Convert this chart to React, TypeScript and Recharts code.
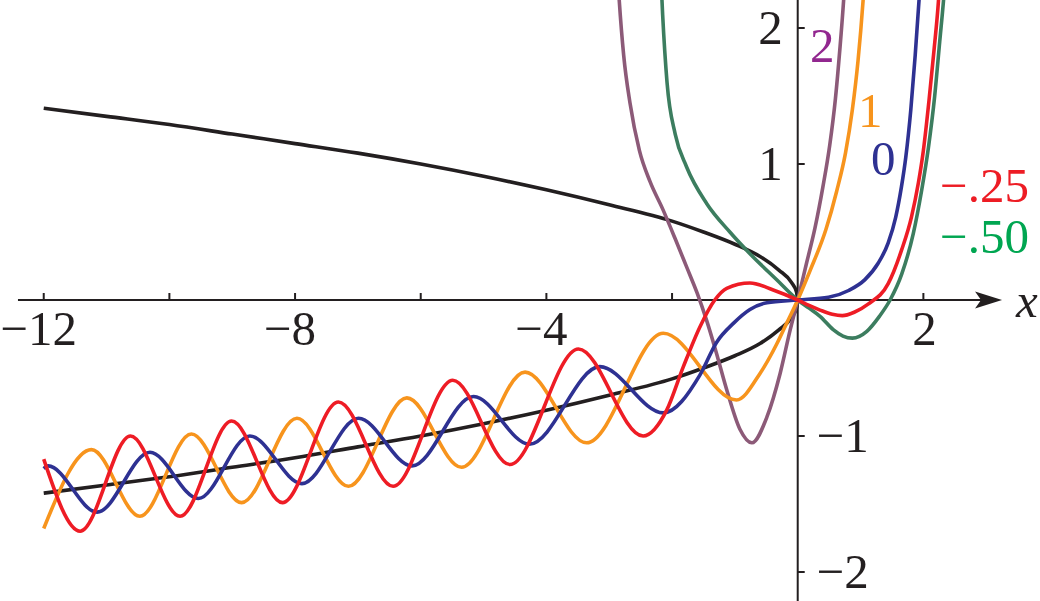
import React from 'react';
import { LineChart, Line, XAxis, YAxis, ReferenceLine, ReferenceDot } from 'recharts';

// ---- data ----
const blackUpper: [number, number][] = [
  [-12, 1.41], [-11, 1.35], [-10, 1.29], [-9, 1.22], [-8, 1.15], [-7, 1.08], [-6, 1.0],
  [-5, 0.91], [-4, 0.81], [-3, 0.7], [-2, 0.58], [-1.5, 0.5], [-1, 0.41], [-0.6, 0.32],
  [-0.3, 0.22], [-0.1, 0.13], [-0.02, 0.06], [0, 0],
];
const blackLower: [number, number][] = [
  [-12, -1.42], [-11, -1.36], [-10, -1.3], [-9, -1.23], [-8, -1.16], [-7, -1.08], [-6, -1.0],
  [-5, -0.91], [-4, -0.81], [-3, -0.7], [-2, -0.58], [-1.5, -0.5], [-1, -0.41], [-0.6, -0.32],
  [-0.3, -0.22], [-0.1, -0.13], [-0.02, -0.06], [0, 0],
];
const curveRed: [number, number][] = [
  [-12, -1.17], [-11.42, -1.7], [-10.62, -1.0], [-9.83, -1.59], [-9.01, -0.89], [-8.2, -1.49],
  [-7.31, -0.75], [-6.44, -1.37], [-5.49, -0.59], [-4.58, -1.21], [-3.49, -0.36], [-2.46, -1.0],
  [-2.085, -0.81], [-1.82, -0.49], [-1.555, -0.196], [-1.32, 0], [-1.13, 0.086], [-0.76, 0.125],
  [-0.39, 0.074], [0, 0], [0.18, -0.04], [0.355, -0.074], [0.55, -0.105], [0.71, -0.115],
  [0.9, -0.09], [1.12, -0.03], [1.44, 0.12], [1.655, 0.37], [1.81, 0.61], [1.92, 0.86],
  [2.0, 1.1], [2.09, 1.47], [2.17, 1.84], [2.24, 2.2], [2.28, 2.5],
];
const curveBlue: [number, number][] = [
  [-12, -1.24], [-11.93, -1.22], [-11.15, -1.56], [-10.31, -1.12], [-9.54, -1.46], [-8.72, -1.0],
  [-7.89, -1.35], [-6.99, -0.87], [-6.14, -1.22], [-5.16, -0.71], [-4.27, -1.06], [-3.15, -0.49],
  [-2.14, -0.83], [-1.555, -0.55], [-1.29, -0.31], [-1.02, -0.17], [-0.76, -0.07], [-0.49, -0.02],
  [0, 0], [0.49, 0.02], [0.81, 0.07], [1.07, 0.15], [1.28, 0.27], [1.44, 0.42], [1.56, 0.61],
  [1.65, 0.83], [1.72, 1.05], [1.8, 1.4], [1.87, 1.8], [1.93, 2.2], [1.97, 2.5],
];
const curveOrange: [number, number][] = [
  [-12, -1.68], [-11.24, -1.1], [-10.47, -1.59], [-9.65, -0.985], [-8.85, -1.49], [-7.97, -0.87],
  [-7.15, -1.37], [-6.22, -0.72], [-5.35, -1.23], [-4.34, -0.53], [-3.36, -1.05], [-2.14, -0.245],
  [-0.975, -0.735], [-0.6, -0.54], [-0.33, -0.32], [-0.175, -0.17], [0, 0], [0.2, 0.22],
  [0.45, 0.52], [0.62, 0.8], [0.76, 1.08], [0.87, 1.4], [0.96, 1.76], [1.04, 2.2], [1.09, 2.55],
];
const curvePurple: [number, number][] = [
  [-2.88, 2.5], [-2.84, 2.2], [-2.77, 1.8], [-2.67, 1.45], [-2.52, 1.1], [-2.35, 0.87],
  [-2.15, 0.67], [-1.95, 0.45], [-1.77, 0.245], [-1.6, 0.05], [-1.45, -0.15], [-1.3, -0.38],
  [-1.13, -0.66], [-0.92, -0.95], [-0.73, -1.05], [-0.49, -0.86], [-0.28, -0.54], [-0.12, -0.22],
  [0, 0], [0.14, 0.27], [0.275, 0.53], [0.4, 0.83], [0.51, 1.14], [0.6, 1.48], [0.67, 1.84],
  [0.73, 2.2], [0.77, 2.5],
];
const curveGreen: [number, number][] = [
  [-2.19, 2.5], [-2.15, 2.1], [-2.08, 1.6], [-1.95, 1.22], [-1.77, 0.98], [-1.45, 0.71],
  [-1.08, 0.5], [-0.76, 0.34], [-0.33, 0.147], [0, 0], [0.18, -0.06], [0.355, -0.12],
  [0.57, -0.22], [0.72, -0.265], [0.87, -0.28], [1.1, -0.23], [1.3, -0.12], [1.47, 0],
  [1.655, 0.19], [1.84, 0.49], [1.97, 0.8], [2.08, 1.12], [2.18, 1.5], [2.26, 1.9],
  [2.32, 2.2], [2.37, 2.5],
];

const xTicks = [-12, -10, -8, -6, -4, -2, 2];
const xTickLabels: Record<number, string> = { [-12]: '\u221212', [-8]: '\u22128', [-4]: '\u22124', [2]: '2' };
const yTicks = [-2, -1, 1, 2];
const yTickLabels: Record<number, string> = { [-2]: '\u22122', [-1]: '\u22121', [1]: '1', [2]: '2' };

const curveLabels = [
  { text: '2', x: 0.196, y: 1.75, color: '#92278F' },
  { text: '1', x: 0.96, y: 1.27, color: '#F7941D' },
  { text: '0', x: 1.167, y: 0.92, color: '#2E3192' },
  { text: '\u2212.25', x: 2.265, y: 0.72, color: '#ED1C24' },
  { text: '\u2212.50', x: 2.265, y: 0.346, color: '#00A651' },
];

const toRows = (pts: [number, number][]) => pts.map(([x, y]) => ({ x, y }));

const W = 1040;
const H = 601;
const X_DOMAIN: [number, number] = [-12.696, 3.856];
const Y_DOMAIN: [number, number] = [-2.2132, 2.2059];
const INK = '#231F20';
const FONT = '"Liberation Serif", "Times New Roman", serif';
const FS = 49;

const series = [
  { key: 'bu', pts: blackUpper, color: INK },
  { key: 'bl', pts: blackLower, color: INK },
  { key: 'green', pts: curveGreen, color: '#3C7D5F' },
  { key: 'purple', pts: curvePurple, color: '#8C5A78' },
  { key: 'orange', pts: curveOrange, color: '#F7941D' },
  { key: 'blue', pts: curveBlue, color: '#2E3192' },
  { key: 'red', pts: curveRed, color: '#EE1C25' },
];

export default function App() {
  return (
    <div style={{ position: 'absolute', left: 0, top: 0, width: W, height: H, background: '#fff' }}>
      <LineChart width={W} height={H} margin={{ top: 0, right: 0, bottom: 0, left: 0 }}>
        <XAxis type="number" dataKey="x" domain={X_DOMAIN} allowDataOverflow hide />
        <YAxis type="number" dataKey="y" domain={Y_DOMAIN} allowDataOverflow hide />
        <ReferenceLine
          segment={[{ x: -12.41, y: 0 }, { x: 3.05, y: 0 }]}
          stroke={INK}
          strokeWidth={2}
          ifOverflow="visible"
        />
        <ReferenceLine x={0} stroke={INK} strokeWidth={2} />
        {xTicks.map((t) => (
          <ReferenceDot
            key={'xt' + t}
            x={t}
            y={0}
            r={1}
            ifOverflow="visible"
            shape={(p: any) => (
              <g>
                <line x1={p.cx} y1={p.cy} x2={p.cx} y2={p.cy - 7} stroke={INK} strokeWidth={2} />
                {xTickLabels[t] ? (
                  <text
                    x={p.cx + (t < 0 ? -5 : 1)}
                    y={p.cy + 45}
                    textAnchor="middle"
                    fontFamily={FONT}
                    fontSize={FS}
                    fill={INK}
                  >
                    {xTickLabels[t]}
                  </text>
                ) : null}
              </g>
            )}
          />
        ))}
        {yTicks.map((t) => (
          <ReferenceDot
            key={'yt' + t}
            x={0}
            y={t}
            r={1}
            ifOverflow="visible"
            shape={(p: any) => (
              <g>
                <line x1={p.cx} y1={p.cy} x2={p.cx + 7} y2={p.cy} stroke={INK} strokeWidth={2} />
                <text
                  x={t > 0 ? p.cx - 15 : p.cx + 19}
                  y={p.cy + 16}
                  textAnchor={t > 0 ? 'end' : 'start'}
                  fontFamily={FONT}
                  fontSize={FS}
                  fill={INK}
                >
                  {yTickLabels[t]}
                </text>
              </g>
            )}
          />
        ))}
        <ReferenceDot
          x={3.252}
          y={0}
          r={1}
          ifOverflow="visible"
          shape={(p: any) => (
            <g>
              <polygon
                points={`${p.cx},${p.cy} ${p.cx - 27},${p.cy - 8.5} ${p.cx - 21},${p.cy} ${p.cx - 27},${p.cy + 8.5}`}
                fill={INK}
              />
              <text
                x={p.cx + 14}
                y={p.cy + 17}
                fontFamily={FONT}
                fontStyle="italic"
                fontSize={FS}
                fill={INK}
              >
                x
              </text>
            </g>
          )}
        />
        {series.map((s) => (
          <Line
            key={s.key}
            data={toRows(s.pts)}
            dataKey="y"
            type="monotone"
            stroke={s.color}
            strokeWidth={3.6}
            dot={false}
            activeDot={false}
            isAnimationActive={false}
          />
        ))}
        {curveLabels.map((l) => (
          <ReferenceDot
            key={'cl' + l.text}
            x={l.x}
            y={l.y}
            r={1}
            ifOverflow="visible"
            shape={(p: any) => (
              <text x={p.cx} y={p.cy} fontFamily={FONT} fontSize={FS} fill={l.color}>
                {l.text}
              </text>
            )}
          />
        ))}
      </LineChart>
    </div>
  );
}
